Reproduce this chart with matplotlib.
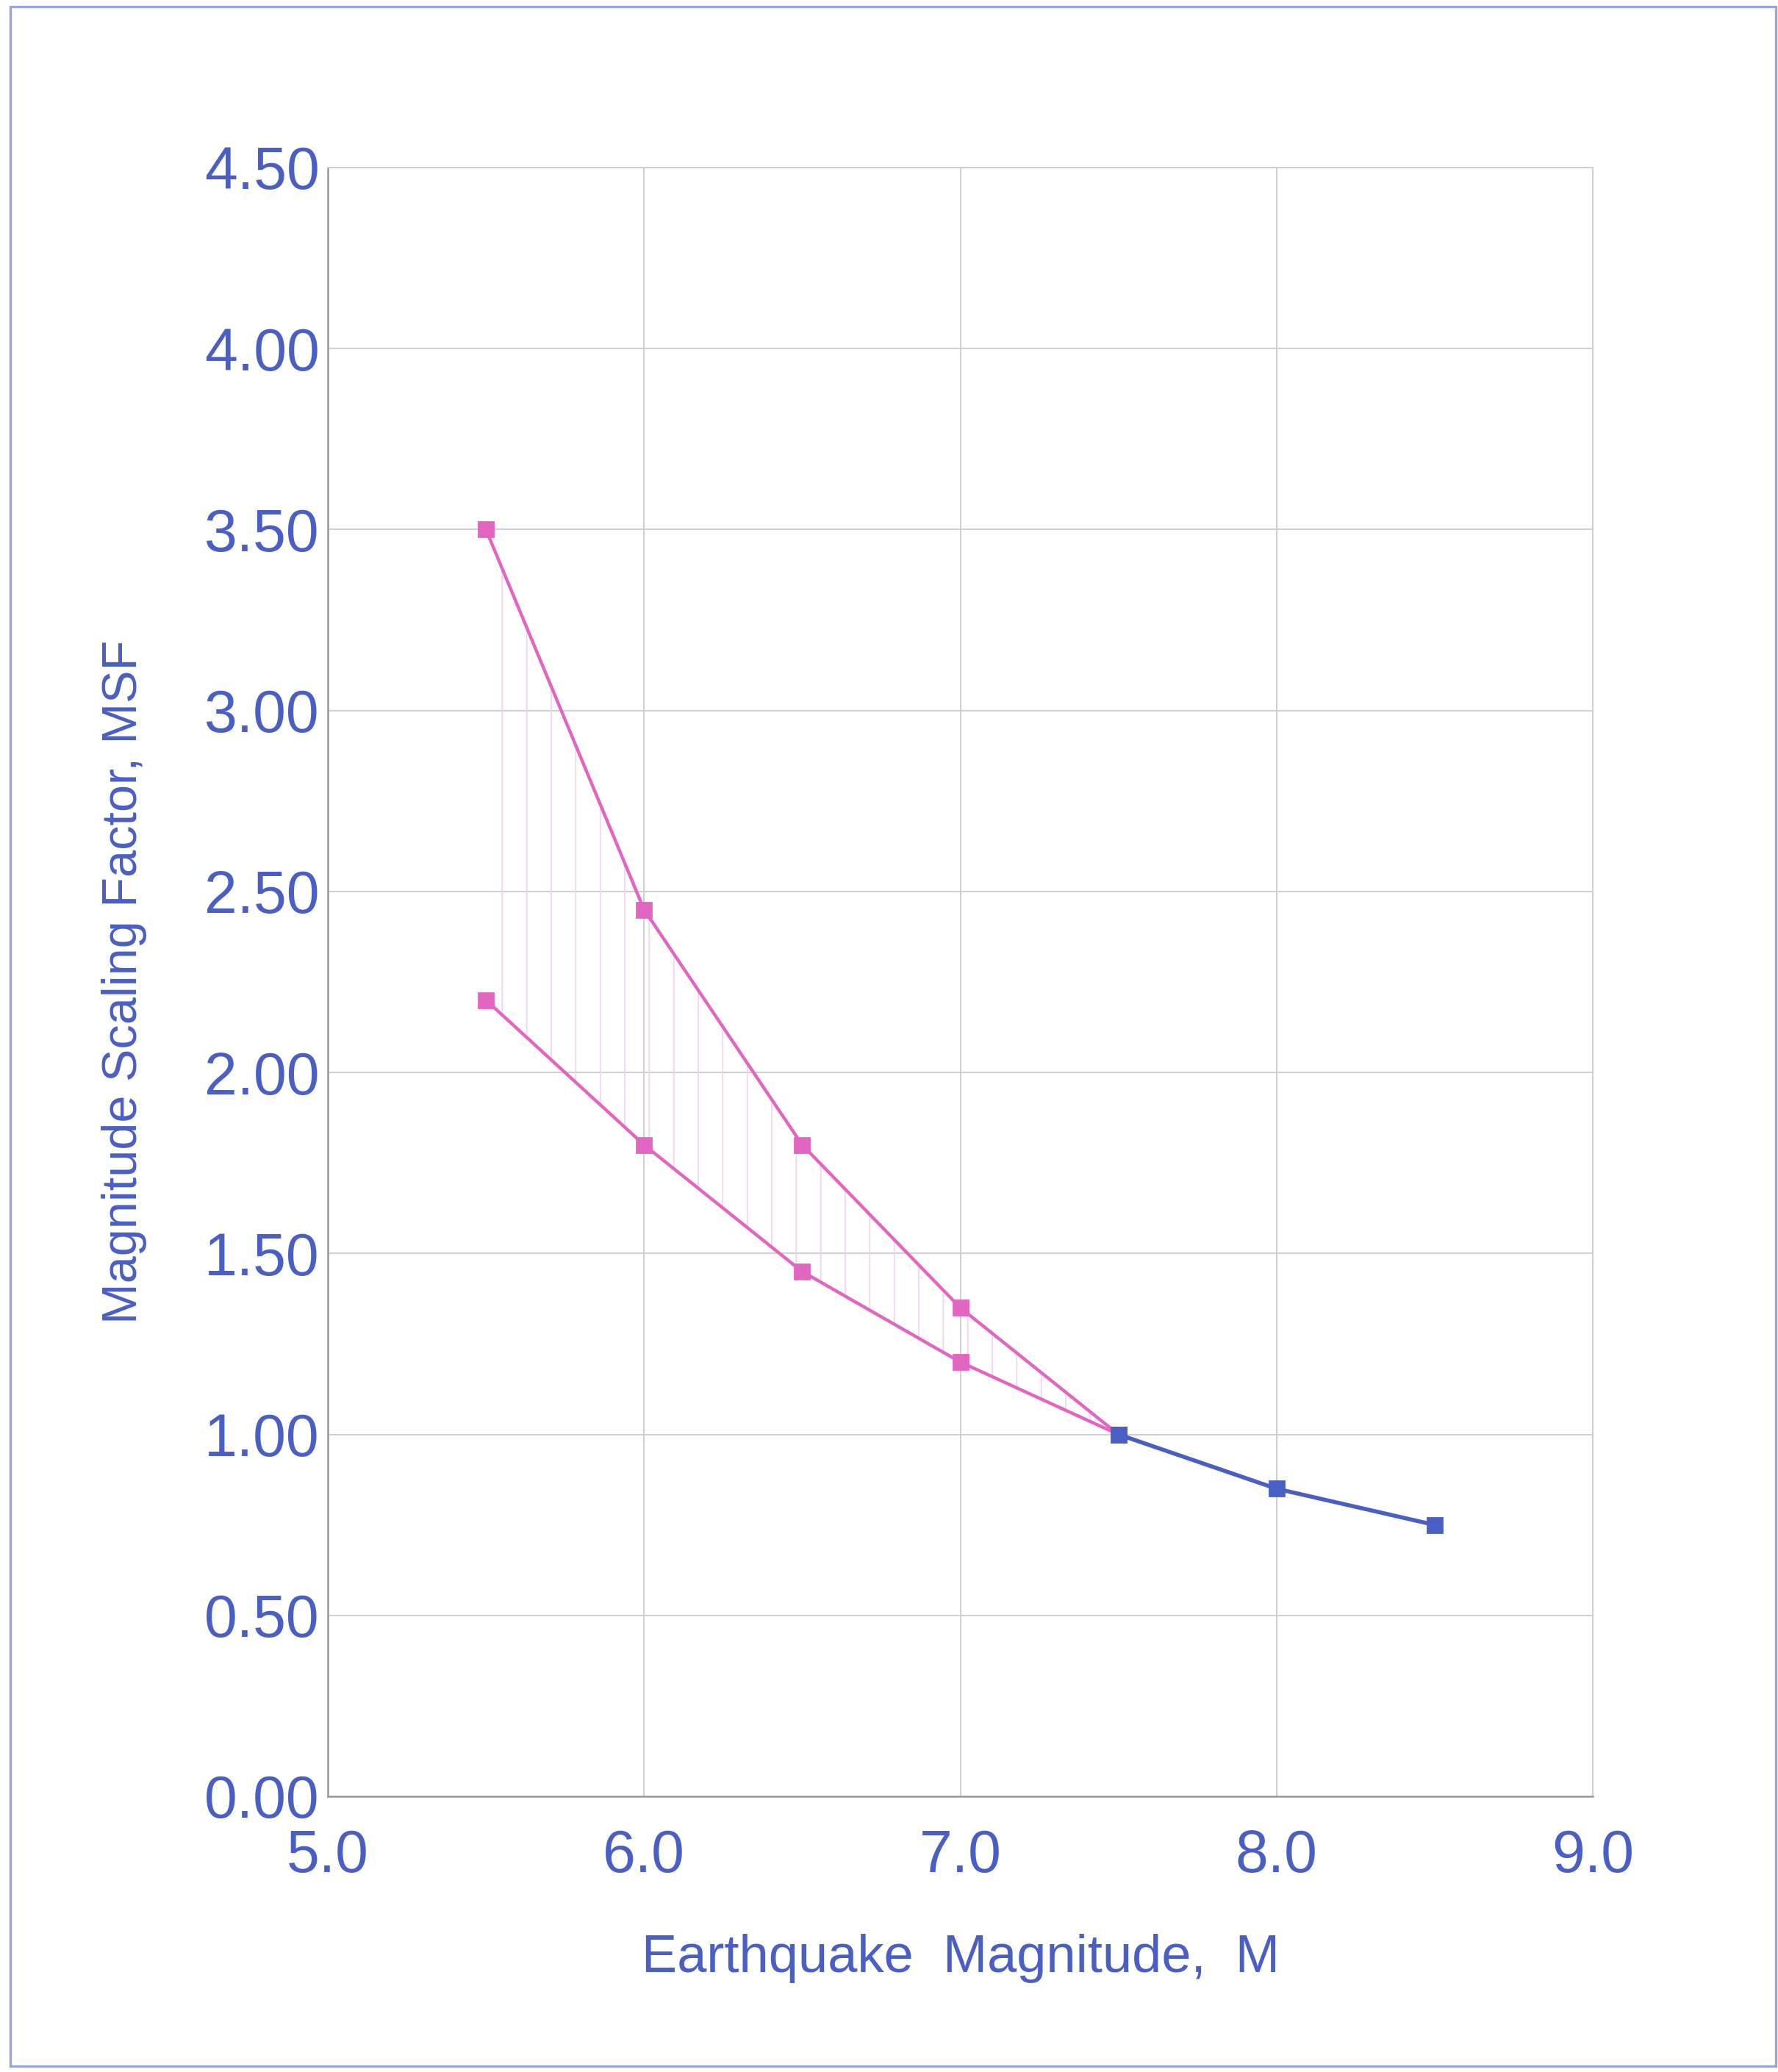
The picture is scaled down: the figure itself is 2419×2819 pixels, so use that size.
import matplotlib
matplotlib.use("Agg")
import matplotlib.pyplot as plt
from matplotlib.patches import Rectangle

# data
mag_range = [5.5, 6.0, 6.5, 7.0, 7.5]
msf_upper = [3.50, 2.45, 1.80, 1.35, 1.00]
msf_lower = [2.20, 1.80, 1.45, 1.20, 1.00]
mag_large = [7.5, 8.0, 8.5]
msf_large = [1.00, 0.85, 0.75]

x_ticks = [5.0, 6.0, 7.0, 8.0, 9.0]
y_ticks = [0.0, 0.5, 1.0, 1.5, 2.0, 2.5, 3.0, 3.5, 4.0, 4.5]

BLUE = "#4a5fc4"
PINK = "#e265c2"
HATCH = "#f0d2ec"

plt.rcParams["font.family"] = ["Liberation Sans", "DejaVu Sans"]
plt.rcParams["hatch.linewidth"] = 0.6

W, H, DPI = 2419, 2819, 200
fig = plt.figure(figsize=(W / DPI, H / DPI), dpi=DPI)
ax = fig.add_axes([446 / W, 1 - 2444 / H, (2167 - 446) / W, (2444 - 228) / H])

# outer frame
fig.patches.append(Rectangle((14 / W, 8 / H), (2416 - 14) / W, (2810 - 8) / H,
                             transform=fig.transFigure, fill=False,
                             edgecolor="#9aa6dc", linewidth=1.2))

ax.fill_between(mag_range, msf_lower, msf_upper, facecolor="none",
                edgecolor=HATCH, hatch="|", linewidth=0)
ax.plot(mag_range, msf_upper, color=PINK, lw=1.6, marker="s", ms=7,
        mfc=PINK, mec=PINK, zorder=3)
ax.plot(mag_range, msf_lower, color=PINK, lw=1.6, marker="s", ms=7,
        mfc=PINK, mec=PINK, zorder=3)
ax.plot(mag_large, msf_large, color=BLUE, lw=2.0, marker="s", ms=7,
        mfc=BLUE, mec=BLUE, zorder=4)

ax.set_xlim(5.0, 9.0)
ax.set_ylim(0.0, 4.5)
ax.set_xticks(x_ticks)
ax.set_yticks(y_ticks)
ax.set_xticklabels([f"{v:.1f}" for v in x_ticks])
ax.set_yticklabels([f"{v:.2f}" for v in y_ticks])
ax.tick_params(length=0, labelsize=29, labelcolor=BLUE)
ax.tick_params(axis="x", pad=16)
ax.tick_params(axis="y", pad=4)
ax.grid(True, color="#cdcdd2", lw=0.7)
ax.set_axisbelow(True)
for side in ["top", "right"]:
    ax.spines[side].set_color("#cdcdd2")
    ax.spines[side].set_linewidth(0.7)
for side in ["left", "bottom"]:
    ax.spines[side].set_color("#9a9a9e")
    ax.spines[side].set_linewidth(0.9)

ax.set_xlabel("Earthquake  Magnitude,  M", fontsize=26, color=BLUE, labelpad=24)
ax.set_ylabel("Magnitude Scaling Factor, MSF", fontsize=24, color=BLUE, labelpad=28)

fig.savefig("out.png", dpi=DPI)
